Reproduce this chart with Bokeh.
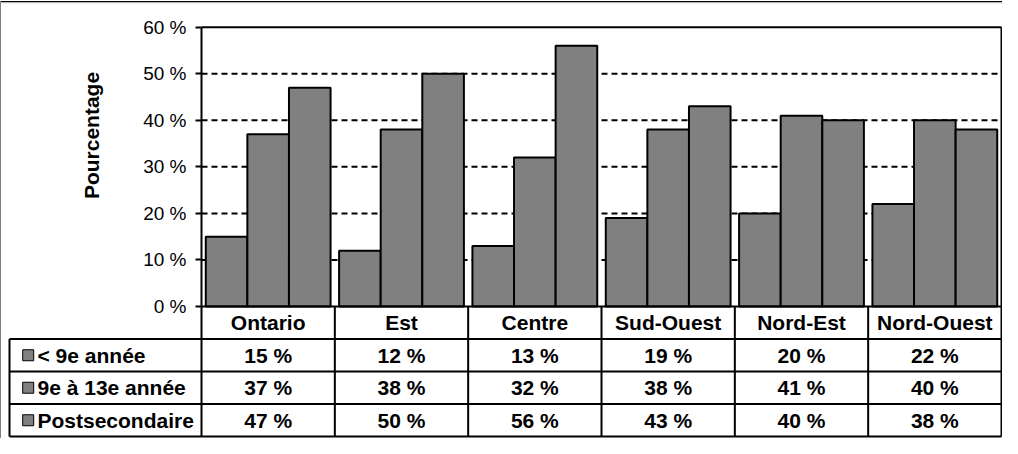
import math
from bokeh.plotting import figure
from bokeh.models import Range1d, FixedTicker, PrintfTickFormatter
from bokeh.core.properties import value
from bokeh.embed import file_html
from bokeh.resources import INLINE

# ---------------- data ----------------
regions = ["Ontario", "Est", "Centre", "Sud-Ouest", "Nord-Est", "Nord-Ouest"]
series_names = ["< 9e année", "9e à 13e année", "Postsecondaire"]
lt9 = [15, 12, 13, 19, 20, 22]
g9_13 = [37, 38, 32, 38, 41, 40]
postsec = [47, 50, 56, 43, 40, 38]
y_ticks = [0, 10, 20, 30, 40, 50, 60]
y_title = "Pourcentage"

series = [lt9, g9_13, postsec]

# ---------------- layout constants ----------------
W, H = 1002, 438
FONT = "Liberation Sans"
FS_TICK = "19px"
FS = "21px"
BAR_W = 0.312
GRAY = "#808080"
LABEL_COL_LEFT = -1.44   # category units, left edge of the row-label column

p = figure(width=W, height=H,
           x_range=Range1d(-1.5075, 6.0075), y_range=Range1d(-28.36, 65.74),
           x_axis_location=None, y_axis_location="left",
           min_border=0, toolbar_location=None, output_backend="svg",
           outline_line_color=None, background_fill_color="white",
           border_fill_color="white")
p.extra_x_ranges = {"px": Range1d(0, W)}
p.extra_y_ranges = {"px": Range1d(H, 0), "tbl": Range1d(4.0615, -9.415)}
p.xgrid.visible = False
p.ygrid.visible = False

ax = p.yaxis[0]
ax.fixed_location = 0
ax.bounds = (0, 60)
ax.ticker = FixedTicker(ticks=y_ticks)
ax.formatter = PrintfTickFormatter(format="%d %%")
ax.axis_line_width = 2
ax.axis_line_color = "black"
ax.major_tick_line_width = 2
ax.major_tick_out = 6
ax.major_tick_in = 0
ax.minor_tick_line_color = None
ax.major_label_standoff = 9
ax.major_label_text_font = FONT
ax.major_label_text_font_size = FS_TICK
ax.major_label_text_color = "black"

# outer chart border (top + left visible)
p.segment(x0=[0, 0], y0=[1, 1], x1=[W, 0], y1=[1, H], line_color="black",
          line_width=1, x_range_name="px", y_range_name="px")
p.segment(x0=[1], y0=[2.2], x1=[W], y1=[2.2], line_color="#a8a8a8",
          line_width=1, x_range_name="px", y_range_name="px")

# dashed gridlines
grid_vals = [t for t in y_ticks if 0 < t < 60]
p.segment(x0=[0] * len(grid_vals), x1=[6] * len(grid_vals), y0=grid_vals, y1=grid_vals,
          line_color="black", line_width=2, line_dash="6 4")

# bars
bx, btop = [], []
for k, vals in enumerate(series):
    for i, v in enumerate(vals):
        bx.append(i + 0.5 + (k - 1) * BAR_W)
        btop.append(v)
p.vbar(x=bx, top=btop, bottom=0, width=BAR_W, fill_color=GRAY,
       line_color="black", line_width=2)

# plot border (top / right)
p.segment(x0=[0, 6], y0=[60, 0], x1=[6, 6], y1=[60, 60], line_color="black", line_width=2)

# y-axis title
p.text(x=[91], y=[135], text=[y_title], angle=math.pi / 2,
       text_font=value(FONT), text_font_style="bold", text_font_size=FS,
       text_align="center", text_baseline="middle",
       x_range_name="px", y_range_name="px")

# ---------------- data table ----------------
n = len(regions)
nrows = len(series)
# horizontal lines
hx0 = [0] + [LABEL_COL_LEFT] * (nrows + 1)
hy = list(range(0, nrows + 2))
p.segment(x0=hx0, x1=[n] * len(hx0), y0=hy, y1=hy, line_color="black",
          line_width=2, y_range_name="tbl")
# vertical lines
vx = list(range(0, n + 1))
p.segment(x0=vx, x1=vx, y0=[0] * len(vx), y1=[nrows + 1] * len(vx),
          line_color="black", line_width=2, y_range_name="tbl")
p.segment(x0=[LABEL_COL_LEFT], x1=[LABEL_COL_LEFT], y0=[1], y1=[nrows + 1],
          line_color="black", line_width=2, y_range_name="tbl")

# header texts
p.text(x=[i + 0.5 for i in range(n)], y=[0.5] * n, text=regions,
       text_font=value(FONT), text_font_style="bold", text_font_size=FS,
       text_align="center", text_baseline="middle", y_range_name="tbl")

# value cells
cx, cy, ct = [], [], []
for k, vals in enumerate(series):
    for i, v in enumerate(vals):
        cx.append(i + 0.5)
        cy.append(k + 1.5)
        ct.append(f"{v} %")
p.text(x=cx, y=cy, text=ct, text_font=value(FONT), text_font_style="bold",
       text_font_size=FS, text_align="center", text_baseline="middle",
       y_range_name="tbl")

# row labels with legend keys
ry = [k + 1.5 for k in range(nrows)]
p.rect(x=[27.7] * nrows, y=ry, width=11, height=11, width_units="screen",
       height_units="screen", fill_color=GRAY, line_color="black", line_width=1,
       x_range_name="px", y_range_name="tbl")
p.text(x=[37] * nrows, y=ry, text=series_names, text_font=value(FONT),
       text_font_style="bold", text_font_size=FS, text_align="left",
       text_baseline="middle", x_range_name="px", y_range_name="tbl")

open("out.html", "w").write(file_html(p, INLINE))
